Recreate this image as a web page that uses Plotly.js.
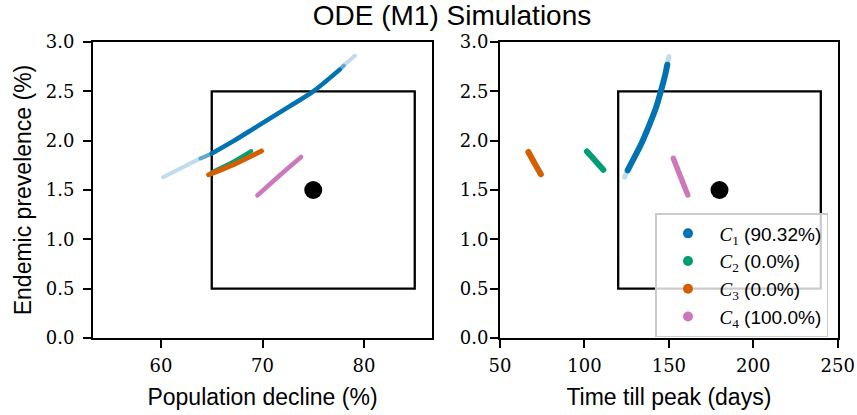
<!DOCTYPE html>
<html>
<head>
<meta charset="utf-8">
<script src="https://cdn.plot.ly/plotly-3.0.1.min.js"></script>
<style>html,body{margin:0;padding:0;background:#fff;}#chart{width:857px;height:415px;}
path.js-line{stroke-linecap:round !important;}</style>
</head>
<body>
<div id="chart"></div>
<script>
// ---- data ----
// Left panel: population decline (%) vs endemic prevalence (%)
const c1DeclineX = [60.2, 62.9, 63.9, 65.0, 67.2, 69.4, 72.7, 75.0, 77.6, 78.0, 79.1];
const c1DeclineY = [1.63, 1.77, 1.82, 1.87, 2.00, 2.14, 2.35, 2.50, 2.72, 2.76, 2.86];
const c2DeclineX = [65.0, 67.0, 68.9];
const c2DeclineY = [1.68, 1.78, 1.895];
const c3DeclineX = [64.7, 67.3, 69.9];
const c3DeclineY = [1.655, 1.765, 1.895];
const c4DeclineX = [69.5, 71.6, 73.8];
const c4DeclineY = [1.445, 1.64, 1.835];
// Right panel: time till peak (days) vs endemic prevalence (%)
const c1PeakX = [123.8, 125.6, 129.6, 134.5, 138.7, 142.5, 145.4, 148.0, 149.1, 150.0];
const c1PeakY = [1.63, 1.70, 1.83, 2.00, 2.17, 2.34, 2.51, 2.68, 2.77, 2.85];
const c2PeakX = [101.5, 106.3, 111.2];
const c2PeakY = [1.89, 1.80, 1.705];
const c3PeakX = [66.8, 70.5, 74.2];
const c3PeakY = [1.885, 1.77, 1.66];
const c4PeakX = [152.7, 156.9, 161.2];
const c4PeakY = [1.82, 1.635, 1.45];
// Observed targets and acceptance boxes
const targetDecline = [75];
const targetPeak = [180];
const targetPrev = [1.5];
const boxDecline = [65, 85];
const boxPeak = [120, 240];
const boxPrev = [0.5, 2.5];
// Legend
const clusterIds = ['1', '2', '3', '4'];
const clusterPct = ['90.32%', '0.0%', '0.0%', '100.0%'];
const clusterColors = ['#0173b2', '#029e73', '#d55e00', '#cc78bc'];
const declineTicks = [60, 70, 80];
const peakTicks = [50, 100, 150, 200, 250];

// ---- build traces ----
const traces = [];
function band(x, y, color, width, opacity, xa, ya) {
  traces.push({x: x, y: y, type: 'scatter', mode: 'lines', xaxis: xa, yaxis: ya,
    line: {color: color, width: width, shape: 'spline', smoothing: 0.8},
    opacity: opacity, showlegend: false, hoverinfo: 'skip'});
}
// C1 left with faded tails
band(c1DeclineX, c1DeclineY, clusterColors[0], 4, 0.25, 'x', 'y');
band(c1DeclineX.slice(2, 10), c1DeclineY.slice(2, 10), clusterColors[0], 4, 0.5, 'x', 'y');
band(c1DeclineX.slice(3, 9), c1DeclineY.slice(3, 9), clusterColors[0], 4.5, 1, 'x', 'y');
band(c2DeclineX, c2DeclineY, clusterColors[1], 4, 1, 'x', 'y');
band(c3DeclineX, c3DeclineY, clusterColors[2], 5, 1, 'x', 'y');
band(c4DeclineX, c4DeclineY, clusterColors[3], 4.5, 1, 'x', 'y');
// right
band(c1PeakX, c1PeakY, clusterColors[0], 5, 0.25, 'x2', 'y2');
band(c1PeakX.slice(1, 9), c1PeakY.slice(1, 9), clusterColors[0], 6, 1, 'x2', 'y2');
band(c2PeakX, c2PeakY, clusterColors[1], 6, 1, 'x2', 'y2');
band(c3PeakX, c3PeakY, clusterColors[2], 6, 1, 'x2', 'y2');
band(c4PeakX, c4PeakY, clusterColors[3], 5.5, 1, 'x2', 'y2');
// targets
traces.push({x: targetDecline, y: targetPrev, type: 'scatter', mode: 'markers', xaxis: 'x', yaxis: 'y',
  marker: {color: '#000', size: 18}, showlegend: false, hoverinfo: 'skip'});
traces.push({x: targetPeak, y: targetPrev, type: 'scatter', mode: 'markers', xaxis: 'x2', yaxis: 'y2',
  marker: {color: '#000', size: 18}, showlegend: false, hoverinfo: 'skip'});
// legend entries
clusterIds.forEach(function (id, i) {
  traces.push({x: [null], y: [null], type: 'scatter', mode: 'markers', xaxis: 'x2', yaxis: 'y2',
    marker: {color: clusterColors[i], size: 10},
    name: '<span style="font-family:\'Liberation Serif\'"><i>C</i><sub>' + id + '</sub></span> (' + clusterPct[i] + ')',
    showlegend: true});
});

const tickFont = {family: 'DejaVu Serif', size: 18, color: '#000'};
const titleFont = {family: 'Liberation Sans, Arial, sans-serif', size: 23, color: '#000'};
const axisCommon = {showline: true, mirror: true, linecolor: '#000', linewidth: 2,
  ticks: 'outside', ticklen: 8, tickwidth: 2, tickcolor: '#000', showgrid: false, zeroline: false,
  tickfont: tickFont};

const yDom = [1 - 338 / 415, 1 - 42 / 415];
const layout = {
  width: 857, height: 415,
  margin: {l: 0, r: 0, t: 0, b: 0},
  paper_bgcolor: '#fff', plot_bgcolor: '#fff',
  font: {family: 'Liberation Sans, Arial, sans-serif', color: '#000'},
  title: {text: 'ODE (M1) Simulations', font: {family: 'Liberation Sans, Arial, sans-serif', size: 28, color: '#000'},
    x: 452 / 857, xanchor: 'center', xref: 'paper', y: 1 - 15 / 415, yanchor: 'middle', yref: 'container'},
  xaxis: Object.assign({}, axisCommon, {domain: [93 / 857, 432 / 857], range: [53.3, 86.7], anchor: 'y',
    tickvals: declineTicks, ticklabelstandoff: 2,
    title: {text: 'Population decline (%)', font: titleFont, standoff: 14}}),
  yaxis: Object.assign({}, axisCommon, {domain: yDom, range: [0, 3], anchor: 'x', dtick: 0.5, tickformat: '.1f',
    ticklabelstandoff: 5,
    title: {text: 'Endemic prevelence (%)', font: titleFont, standoff: 8}}),
  xaxis2: Object.assign({}, axisCommon, {domain: [500 / 857, 837.7 / 857], range: [50, 250], anchor: 'y2',
    tickvals: peakTicks, ticklabelstandoff: 2,
    title: {text: 'Time till peak (days)', font: titleFont, standoff: 14}}),
  yaxis2: Object.assign({}, axisCommon, {domain: yDom, range: [0, 3], anchor: 'x2', dtick: 0.5, tickformat: '.1f',
    ticklabelstandoff: -2}),
  shapes: [
    {type: 'rect', xref: 'x', yref: 'y', x0: boxDecline[0], x1: boxDecline[1], y0: boxPrev[0], y1: boxPrev[1],
      line: {color: '#000', width: 2.3}, layer: 'below'},
    {type: 'rect', xref: 'x2', yref: 'y2', x0: boxPeak[0], x1: boxPeak[1], y0: boxPrev[0], y1: boxPrev[1],
      line: {color: '#000', width: 2.3}, layer: 'below'}
  ],
  legend: {x: 828 / 857, y: 1 - 213 / 415, xanchor: 'right', yanchor: 'top', xref: 'paper', yref: 'paper',
    bgcolor: 'rgba(255,255,255,0.8)', bordercolor: '#cccccc', borderwidth: 1.5, itemwidth: 53,
    font: {family: 'Liberation Sans, Arial, sans-serif', size: 19, color: '#000'}, tracegroupgap: 0}
};

Plotly.newPlot('chart', traces, layout, {staticPlot: true, displayModeBar: false});
</script>
</body>
</html>
